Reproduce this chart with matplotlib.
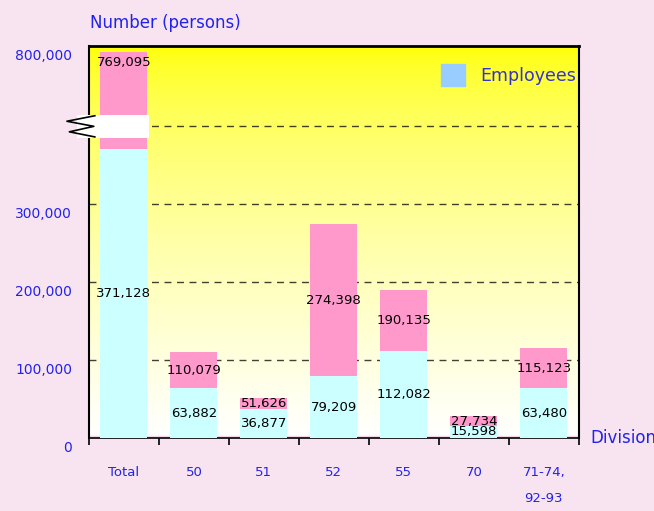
import numpy as np
import matplotlib
matplotlib.use("Agg")
from matplotlib import pyplot as plt
from matplotlib.patches import Patch, Rectangle
from matplotlib.lines import Line2D
import matplotlib.transforms as mtransforms

# 数据
divisions = ["Total", "50", "51", "52", "55", "70", "71-74,\n92-93"]
persons = [769095, 110079, 51626, 274398, 190135, 27734, 115123]
employees = [371128, 63882, 36877, 79209, 112082, 15598, 63480]
ytick_values = [0, 100000, 200000, 300000, 800000]
ytick_labels = ["0", "100,000", "200,000", "300,000", "800,000"]

BREAK = 400000
K = 0.2575  # 断轴以上的压缩比例


def fwd(y):
    y = np.asarray(y, dtype=float)
    return np.where(y <= BREAK, y, BREAK + (y - BREAK) * K)


def inv(y):
    y = np.asarray(y, dtype=float)
    return np.where(y <= BREAK, y, BREAK + (y - BREAK) / K)


blue = "#2222EE"
pink = "#FF99CC"
cyan = "#CCFFFF"

fig = plt.figure(figsize=(6.54, 5.11), dpi=100, facecolor="#F8E4F0")
ax = fig.add_axes([0.136, 0.143, 0.749, 0.767])
ax.set_yscale("function", functions=(fwd, inv))

# 黄到白的渐变背景
t = np.linspace(1, 0, 256).reshape(-1, 1)
b = (1 - t) ** 0.6
grad_rgb = np.dstack([np.ones_like(b), np.ones_like(b), b])
ax.imshow(grad_rgb, extent=[0, 1, 0, 1], transform=ax.transAxes,
          aspect="auto", zorder=0, origin="upper")

x = np.arange(len(divisions))
ax.axhspan(0, 3000, color="#F5D5E8", zorder=1)
ax.bar(x, persons, width=0.67, color=pink, zorder=2)
ax.bar(x, employees, width=0.67, color=cyan, zorder=3)

for g in [100000, 200000, 300000, 400000]:
    ax.axhline(g, color="black", lw=1, dashes=(5, 4), alpha=0.75, zorder=1.5)

# 数值标签
for i in range(len(divisions)):
    ax.text(x[i], employees[i] / 2, f"{employees[i]:,}", ha="center",
            va="center", fontsize=9.5, zorder=5)
    if i == 0:
        ax.annotate(f"{persons[i]:,}", (x[i], persons[i]), xytext=(0, -3),
                    textcoords="offset points", ha="center", va="top",
                    fontsize=9.5, zorder=5)
    else:
        ax.text(x[i], (persons[i] + employees[i]) / 2, f"{persons[i]:,}",
                ha="center", va="center", fontsize=9.5, zorder=5)

ax.set_xlim(-0.5, len(divisions) - 0.5)
ax.set_ylim(0, 800000)

ax.set_xticks(x)
ax.set_xticklabels(divisions, color=blue, fontsize=9.5, linespacing=2.3)
ax.set_xticks(np.arange(-0.5, len(divisions)), minor=True)
ax.tick_params(axis="x", which="major", length=0, pad=20)
ax.tick_params(axis="x", which="minor", length=5, width=1.2, direction="out")

ax.set_yticks(ytick_values)
ax.set_yticklabels(ytick_labels, color=blue, fontsize=10)
ax.yaxis.set_minor_locator(matplotlib.ticker.NullLocator())
ax.tick_params(axis="y", length=0, pad=12)
offset = mtransforms.ScaledTranslation(0, -6 / 72, fig.dpi_scale_trans)
for lab in ax.get_yticklabels():
    lab.set_transform(lab.get_transform() + offset)

for side in ["left", "right"]:
    ax.spines[side].set_linewidth(1.5)
ax.spines["bottom"].set_linewidth(1.2)
ax.spines["top"].set_linewidth(2)

# 断轴标记
ax.add_patch(Rectangle((-0.024, 0.765), 0.146, 0.059, transform=ax.transAxes,
                       facecolor="white", edgecolor="none", clip_on=False,
                       zorder=6))
zx = [0.012, -0.045, 0.010, -0.040, 0.012]
zy = [0.822, 0.808, 0.795, 0.781, 0.768]
ax.add_line(Line2D(zx, zy, transform=ax.transAxes, color="black", lw=1.2,
                   clip_on=False, zorder=7))

ax.legend(handles=[Patch(color="#99CCFF", label="Employees")],
          loc="upper right", frameon=False, fontsize=12.5, labelcolor="#3333CC",
          handlelength=1.35, handleheight=1.55, handletextpad=0.9,
          borderaxespad=0.3, bbox_to_anchor=(1.02, 0.985))

fig.text(0.138, 0.955, "Number (persons)", color=blue, fontsize=12,
         va="center", ha="left")
fig.text(0.902, 0.143, "Division", color=blue, fontsize=12, va="center",
         ha="left")

fig.savefig("out.png", dpi=100, facecolor=fig.get_facecolor())
